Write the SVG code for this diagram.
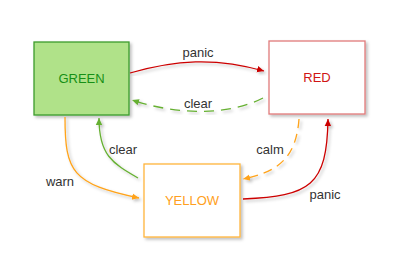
<svg xmlns="http://www.w3.org/2000/svg" width="400" height="275" viewBox="0 0 400 275">
<defs>
<filter id="sh" x="-20%" y="-20%" width="140%" height="140%">
<feDropShadow dx="2" dy="2" stdDeviation="1.5" flood-color="#000" flood-opacity="0.25"/>
</filter>
<marker id="aR" markerUnits="userSpaceOnUse" markerWidth="8" markerHeight="8" refX="7" refY="4" orient="auto"><path d="M0,0.8 L7,4 L0,7.2 Z" fill="#cc0000"/></marker>
<marker id="aG" markerUnits="userSpaceOnUse" markerWidth="8" markerHeight="8" refX="7" refY="4" orient="auto"><path d="M0,0.8 L7,4 L0,7.2 Z" fill="#66b032"/></marker>
<marker id="aO" markerUnits="userSpaceOnUse" markerWidth="8" markerHeight="8" refX="7" refY="4" orient="auto"><path d="M0,0.8 L7,4 L0,7.2 Z" fill="#ffa31a"/></marker>
</defs>
<style>
text{font-family:"Liberation Sans",Arial,sans-serif;font-size:13px;text-anchor:middle}
.lbl{fill:#333}
.e{fill:none;stroke-width:1.3;filter:url(#sh)}
.r{stroke:#cc0000}
.g{stroke:#66b032}
.o{stroke:#ffa31a}
.box{stroke-width:1.3;filter:url(#sh)}
</style>
<rect width="400" height="275" fill="#fff"/>
<g id="GREEN">
<rect class="box" x="34" y="42" width="95" height="73" fill="#b0e289" stroke="#3d9c2d"/>
<text x="81.5" y="83" fill="#169016">GREEN</text>
</g>
<g id="RED">
<rect class="box" x="269" y="41" width="96" height="73" fill="#fff" stroke="#e07a7a"/>
<text x="317" y="82" fill="#d01515">RED</text>
</g>
<g id="YELLOW">
<rect class="box" x="144" y="164" width="96" height="73" fill="#fff" stroke="#ffb43c"/>
<text x="192" y="205" fill="#ffa020">YELLOW</text>
</g>
<g id="connectors">
<path class="e r" d="M130,73 C175,60 215,57 264,71" marker-end="url(#aR)"/>
<text class="lbl" x="198" y="57">panic</text>
<path class="e g" d="M263,98 C230,115 180,116 132,100" stroke-dasharray="10,7" marker-end="url(#aG)"/>
<text class="lbl" x="198" y="108">clear</text>
<path class="e o" d="M65,117 C65,172 72,184 139,198" marker-end="url(#aO)"/>
<text class="lbl" x="60" y="186">warn</text>
<path class="e g" d="M138,178 C112,163 99,155 99,118" marker-end="url(#aG)"/>
<text class="lbl" x="123" y="154">clear</text>
<path class="e o" d="M299,119 C296,160 276,172 243,179" stroke-dasharray="9,6" marker-end="url(#aO)"/>
<text class="lbl" x="270" y="154">calm</text>
<path class="e r" d="M243,199 C310,196 327,186 328,119" marker-end="url(#aR)"/>
<text class="lbl" x="325" y="199">panic</text>
</g>
</svg>
